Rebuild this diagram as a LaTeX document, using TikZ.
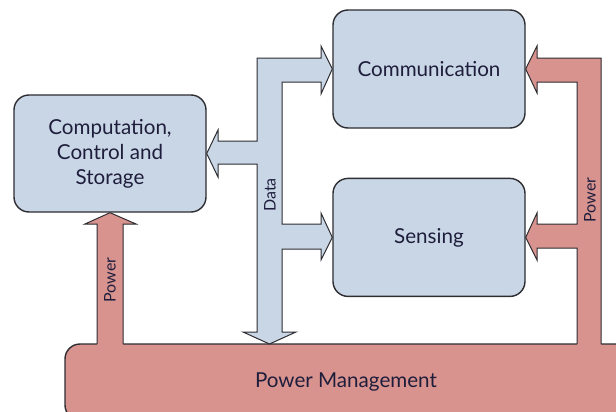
\documentclass[tikz,border=0pt]{standalone}
\usepackage{fontspec}
\setmainfont{Lato}
\usetikzlibrary{positioning}
\definecolor{blockBlue}{RGB}{201,214,229}
\definecolor{powerRed}{RGB}{217,147,143}
\definecolor{edgeGray}{RGB}{45,45,50}
\definecolor{textNavy}{RGB}{30,30,60}

\begin{document}
\begin{tikzpicture}[
    x=0.5pt, y=-0.5pt,
    blk/.style={draw=edgeGray, fill=blockBlue, rounded corners=7.5pt, line width=0.7pt,
                minimum width=96pt, minimum height=59pt, align=center, font=\fontsize{10.3}{12.5}\selectfont, text=textNavy},
    pm/.style={draw=edgeGray, fill=powerRed, rounded corners=7.5pt, line width=0.7pt,
               minimum width=290pt, minimum height=38pt, font=\fontsize{10.3}{12}\selectfont, text=textNavy},
    flow/.style={draw=edgeGray, line width=0.5pt, line join=miter},
    tag/.style={font=\fontsize{8}{9}\selectfont, text=textNavy, rotate=90},
]
\useasboundingbox (0,0) rectangle (616,412);

% Blocks
\node[blk] (comm) at (429,69) {Communication};
\node[blk, below=24.5pt of comm] (sens) {Sensing};
\node[blk, minimum height=58.5pt] (comp) at (110,153.5) {Computation,\\Control and\\Storage};

% Power management runs off the page
\node[pm] (pm) at (355,382) {\hspace*{-9pt}Power Management};

% Data bus
\fill[blockBlue] (257,58) -- (321,58) -- (321,46) -- (comm.west) -- (321,94) -- (321,82)
    -- (282,82) -- (282,224) -- (321,224) -- (321,213) -- (sens.west) -- (321,260) -- (321,249)
    -- (282,249) -- (282,332) -- (296,332) -- (269.5,344) -- (243,332) -- (257,332)
    -- (257,164) -- (218,164) -- (218,177) -- (comp.east) -- (218,130) -- (218,141) -- (257,141) -- cycle;
\draw[flow] (257,58) -- (321,58) -- (321,46) -- (comm.west) -- (321,94) -- (321,82)
    -- (282,82) -- (282,224) -- (321,224) -- (321,213) -- (sens.west) -- (321,260) -- (321,249)
    -- (282,249) -- (282,332) -- (296,332) -- (269.5,344) -- (243,332) -- (257,332)
    -- (257,164) -- (218,164) -- (218,177) -- (comp.east) -- (218,130) -- (218,141) -- (257,141) -- cycle;
\node[tag] (datatag) at (270,195) {Data};

% Power to computation
\fill[powerRed] (97,346) -- (97,224) -- (85,224) -- (comp.south) -- (136,224) -- (123,224) -- (123,346) -- cycle;
\draw[flow] (97,344) -- (97,224) -- (85,224) -- (comp.south) -- (136,224) -- (123,224) -- (123,344);
\node[tag] (pwrleft) at (110,280) {Power};

% Power to communication and sensing
\fill[powerRed] (601,346) -- (601,58) -- (537,58) -- (537,46) -- (comm.east) -- (537,93) -- (537,82)
    -- (577,82) -- (577,224) -- (537,224) -- (537,213) -- (sens.east) -- (537,260) -- (537,248)
    -- (577,248) -- (577,346) -- cycle;
\draw[flow] (601,344) -- (601,58) -- (537,58) -- (537,46) -- (comm.east) -- (537,93) -- (537,82)
    -- (577,82) -- (577,224) -- (537,224) -- (537,213) -- (sens.east) -- (537,260) -- (537,248)
    -- (577,248) -- (577,344);
\node[tag] (pwrright) at (590,200) {Power};
\end{tikzpicture}
\end{document}
